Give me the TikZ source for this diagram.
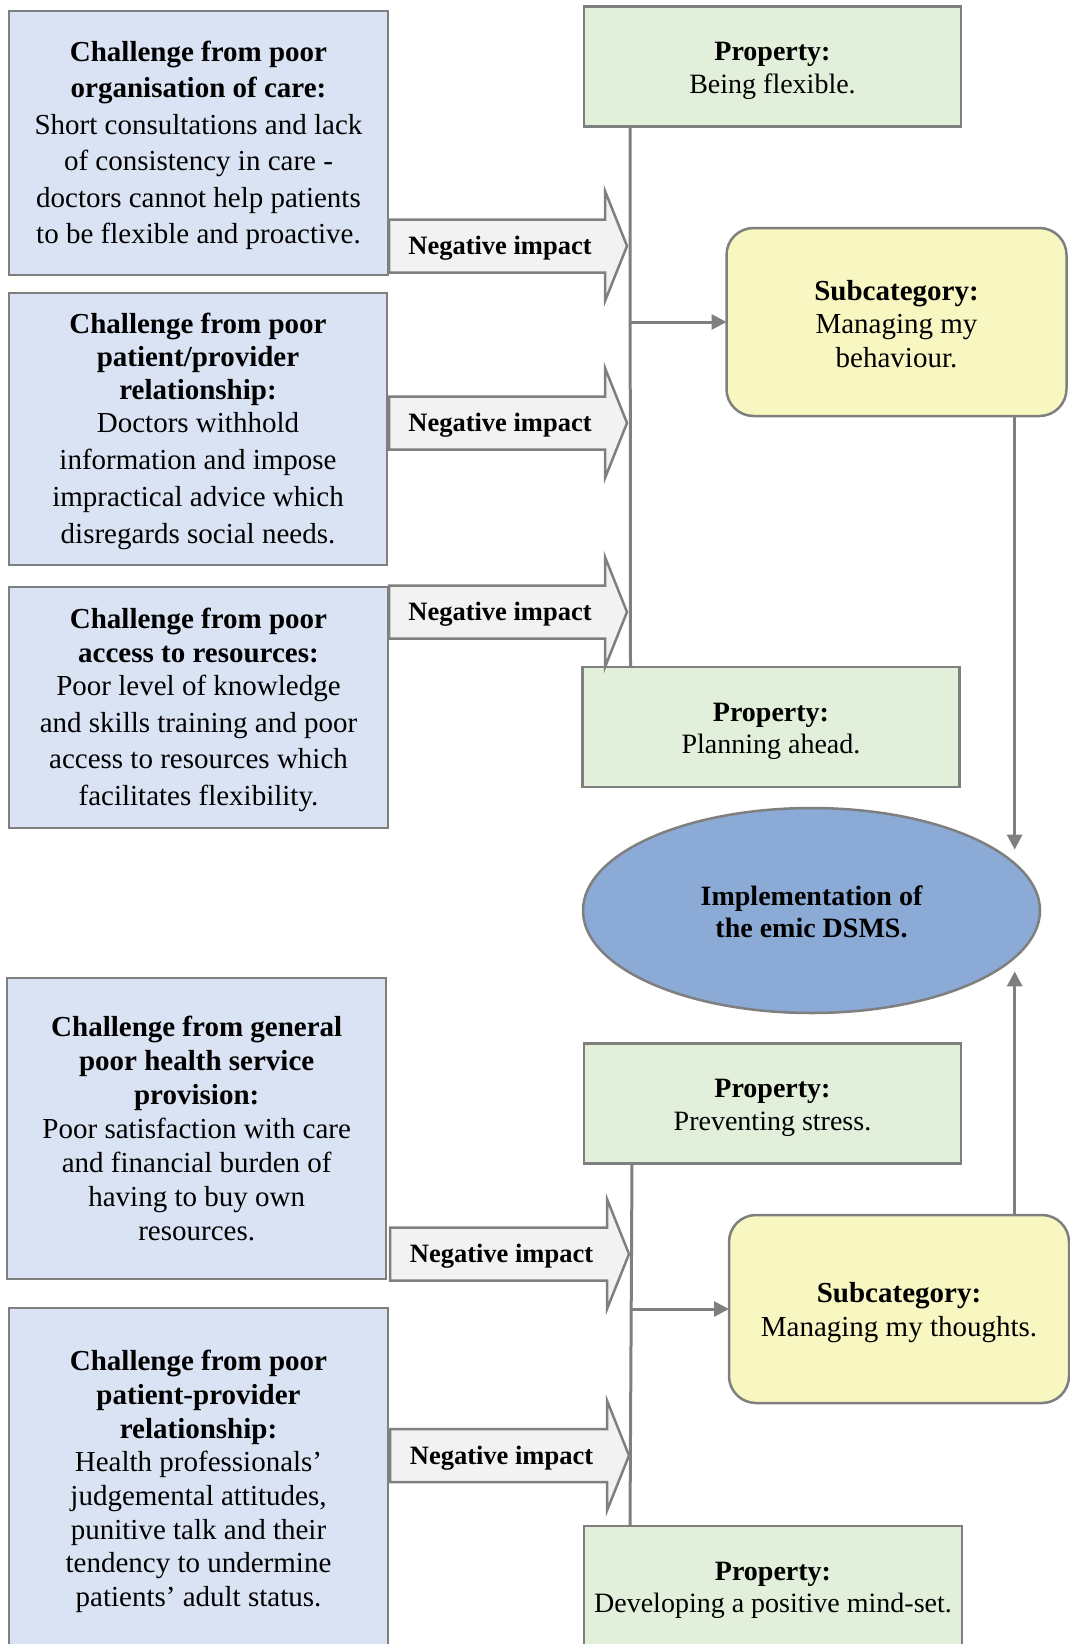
\documentclass[tikz,border=0pt]{standalone}
\usepackage{fontspec}
\setmainfont{Liberation Serif}
\usetikzlibrary{arrows.meta,shapes.geometric,calc}

\definecolor{edgegray}{HTML}{7F7F7F}
\definecolor{chalfill}{HTML}{DAE3F3}
\definecolor{propfill}{HTML}{E2EFDA}
\definecolor{subfill}{HTML}{F8F6C1}
\definecolor{corefill}{HTML}{8BAAD5}
\definecolor{impactfill}{HTML}{F2F2F2}

% struts framing the first and last line of a text block
\newcommand\topstrut{\rule{0pt}{\strutH}}
\newcommand\bottomstrut{\rule[-\strutD]{0pt}{\strutD}}

% block arrow "Negative impact": #1 name, #2 centre y, #3 tail x, #4 head base x, #5 tip x
\newcommand\negarrow[5]{%
  \draw[impact] (#3,#2-26.5) -- (#4,#2-26.5) -- (#4,#2-55) -- (#5,#2)
    -- (#4,#2+55) -- (#4,#2+26.5) -- (#3,#2+26.5) -- cycle;
  \node[impacttext] (#1) at ({(#3+#4)/2+3},#2) {\topstrut Negative impact\bottomstrut};}

\begin{document}
\begin{tikzpicture}[x=1pt,y=-1pt,
  boxtext/.style 2 args={align=center,inner sep=0pt,outer sep=0pt,
    execute at begin node={\def\strutH{#1em}\def\strutD{#2em}}},
  challenge/.style={rectangle,draw=edgegray,fill=chalfill,line width=2.5pt,
    boxtext={0.88}{0.22},minimum width=379pt},
  property/.style={rectangle,draw=edgegray,fill=propfill,line width=2.5pt,
    boxtext={0.95}{0.15},minimum width=377pt,minimum height=120pt,
    font=\fontsize{28}{32.5}\selectfont},
  subcat/.style={rectangle,rounded corners=27pt,draw=edgegray,fill=subfill,line width=2.5pt,
    boxtext={0.95}{0.15},minimum width=340pt,minimum height=188pt,
    font=\fontsize{29}{33.5}\selectfont},
  core/.style={ellipse,draw=edgegray,fill=corefill,line width=2.5pt,
    boxtext={0.95}{0.15},minimum width=457pt,minimum height=205pt,
    font=\fontsize{28}{32.5}\selectfont\bfseries},
  impact/.style={draw=edgegray,fill=impactfill,line width=2.5pt,line join=miter},
  impacttext/.style={boxtext={0.88}{0.16},font=\fontsize{26.5}{30}\selectfont\bfseries},
  link/.style={draw=edgegray,line width=3pt},
  linkarrow/.style={link,-{Triangle[length=15pt,width=15pt]}}
]
\useasboundingbox (0,0) rectangle (1070,1644);
\clip (0,0) rectangle (1070,1644);

% challenges (left column)
\node[challenge,minimum height=264pt,font=\fontsize{29}{36.5}\selectfont] (C1) at (198.5,143)
  {\topstrut\textbf{Challenge from poor}\\ \textbf{organisation of care:}\\ Short consultations and lack\\
   of consistency in care -\\ doctors cannot help patients\\ to be flexible and proactive.\bottomstrut};
\node[challenge,minimum width=378pt,minimum height=272pt,font=\fontsize{29}{33}\selectfont] (C2) at (198,429)
  {\topstrut\textbf{Challenge from poor}\\ \textbf{patient/provider}\\ \textbf{relationship:}\\
   Doctors withhold\\[4pt] information and impose\\[4pt] impractical advice which\\[4pt] disregards social needs.\bottomstrut};
\node[challenge,minimum height=241pt,font=\fontsize{29}{33.5}\selectfont] (C3) at (198.5,707.5)
  {\topstrut\textbf{Challenge from poor}\\ \textbf{access to resources:}\\ Poor level of knowledge\\[3pt]
   and skills training and poor\\[3pt] access to resources which\\[3pt] facilitates flexibility.\bottomstrut};
\node[challenge,minimum height=301pt,font=\fontsize{29}{34}\selectfont] (C4) at (196.7,1128.5)
  {\topstrut\textbf{Challenge from general}\\ \textbf{poor health service}\\ \textbf{provision:}\\
   Poor satisfaction with care\\ and financial burden of\\ having to buy own\\ resources.\bottomstrut};
\node[challenge,minimum height=342pt,font=\fontsize{29}{33.7}\selectfont] (C5) at (198.5,1479)
  {\topstrut\textbf{Challenge from poor}\\ \textbf{patient-provider}\\ \textbf{relationship:}\\
   Health professionals’\\ judgemental attitudes,\\ punitive talk and their\\
   tendency to undermine\\ patients’ adult status.\bottomstrut};

% properties
\node[property] (P1) at (772.5,66.5) {\topstrut\textbf{Property:}\\ Being flexible.\bottomstrut};
\node[property] (P2) at (771,727) {\topstrut\textbf{Property:}\\ Planning ahead.\bottomstrut};
\node[property] (P3) at (772.5,1103.5) {\topstrut\textbf{Property:}\\ Preventing stress.\bottomstrut};
\node[property,minimum width=378pt] (P4) at (773,1586)
  {\topstrut\textbf{Property:}\\ Developing a positive mind-set.\bottomstrut};

% subcategories and the core category
\node[subcat] (S1) at (896.5,322) {\topstrut\textbf{Subcategory:}\\ Managing my\\ behaviour.\bottomstrut};
\node[subcat] (S2) at (899,1309) {\topstrut\textbf{Subcategory:}\\ Managing my thoughts.\bottomstrut};
\node[core] (E) at (811.5,910.5) {\topstrut Implementation of\\ the emic DSMS.\bottomstrut};

% property buses
\coordinate (busA) at ($(P1.south west)+(46,0)$);
\coordinate (busB) at ($(P3.south west)+(48,0)$);
\draw[link] (busA) -- ($(P2.north west)+(48,0)$);
\draw[link] (busB) -- ($(P4.north west)+(46,0)$);

% negative impacts
\negarrow{N1}{246}{389}{605}{627}
\negarrow{N2}{423}{389}{605}{627}
\negarrow{N3}{612}{389}{605}{627}
\negarrow{N4}{1254}{390}{607}{629}
\negarrow{N5}{1455.5}{390}{607}{629}

% flows
\draw[linkarrow] (S1.west -| busA) -- (S1.west);
\draw[linkarrow] (S2.west -| busB) -- (S2.west);
\draw[linkarrow,shorten >=14pt] (S1.south -| E.13) -- (E.13);
\draw[linkarrow,shorten >=14pt] (S2.north -| E.-13) -- (E.-13);
\end{tikzpicture}
\end{document}
